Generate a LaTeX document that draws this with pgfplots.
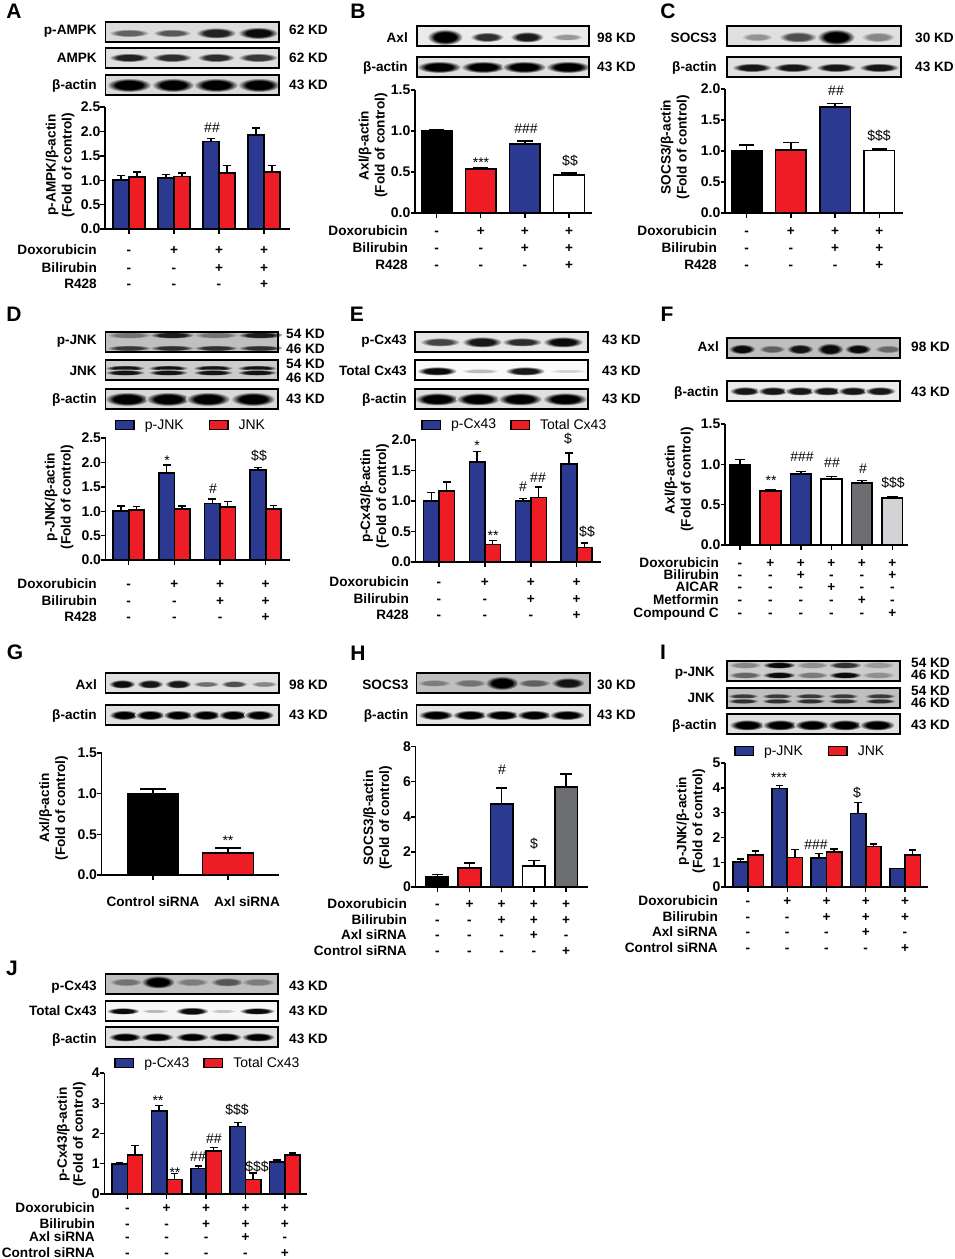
\documentclass[border=0pt]{standalone}
\usepackage{pgfplots}
\pgfplotsset{compat=1.18}
\usepackage{fontspec}
\setmainfont{Liberation Sans}
\definecolor{myblue}{HTML}{2B3990}
\definecolor{myred}{HTML}{EE1C25}
\definecolor{mygray}{HTML}{6D6E71}
\definecolor{mylight}{HTML}{D1D3D4}
\newcommand\lbl{\fontsize{13.6}{16}\selectfont\bfseries}
\newcommand\sig{\fontsize{14}{16}\selectfont}
\colorlet{bandcol}{black}
\colorlet{bandbg}{white}
\pgfdeclareradialshading[bandcol,bandbg]{band}{\pgfpoint{0bp}{0bp}}{color(0bp)=(bandcol); color(15bp)=(bandcol); color(25bp)=(bandbg); color(50bp)=(bandbg)}
% text in pixel coordinates, y counted from the top
\newcommand\Rt[3]{\node[anchor=east,inner sep=0pt,font=\lbl,text height=9.7pt,text depth=0pt] at (#1pt,-#2pt) {#3};}
\newcommand\Lt[3]{\node[anchor=west,inner sep=0pt,font=\lbl,text height=9.7pt,text depth=0pt] at (#1pt,-#2pt) {#3};}
\newcommand\Ct[3]{\node[inner sep=0pt,font=\lbl,text height=9.7pt,text depth=0pt] at (#1pt,-#2pt) {#3};}
\newcommand\Sg[3]{\node[inner sep=0pt,font=\sig,text height=10pt,text depth=0pt] at (#1pt,-#2pt) {#3};}
\newcommand\St[3]{\node[inner sep=0pt,font=\sig,text height=10pt,text depth=0pt,yshift=-3pt] at (#1pt,-#2pt) {#3};}
\newcommand\Pn[3]{\node[inner sep=0pt,font=\fontsize{21}{24}\selectfont\bfseries] at (#1pt,-#2pt) {#3};}
% sign rows: right edge of label, y, label, first x, step, signs
\newcommand\Row[6]{\Rt{#1}{#2}{#3}\foreach \s [count=\i from 0] in {#6}{\pgfmathsetmacro\xx{#4+\i*#5}\Ct{\xx}{#2}{\s}}}
% blot box and bands
\newcommand\Band[2]{\foreach \c/\w/\h/\k in {#2}{\colorlet{bandcol}{black!\k!bandbg}\pgfmathsetmacro\ww{\w*1.12}\shade[shading=band] (\c pt,-#1pt) ellipse [x radius=\ww pt,y radius=\h pt];}}
\newcommand\Blot[6]{\colorlet{bandbg}{black!#5!white}\fill[bandbg] (#1pt,-#2pt) rectangle (#3pt,-#4pt);#6\draw[black,line width=1.1pt] (#1pt,-#2pt) rectangle (#3pt,-#4pt);}
\pgfplotsset{
  panel/.style n args={7}{at={(#1pt,-#2pt)},anchor=south west,scale only axis,width=#3pt,height=#4pt,
    xmin=#5,xmax=#6,ymin=0,ymax=#7,axis x line*=bottom,axis y line*=left,tick align=outside,
    xticklabel=\empty,axis line style={line width=1.4pt,black},tick style={line width=1.4pt,black},
    major tick length=4.5pt,scaled y ticks=false,
    yticklabel style={font=\fontsize{14}{16}\selectfont\bfseries,inner sep=0pt,/pgf/number format/.cd,fixed,fixed zerofill,precision=1,assume math mode=true},
    ylabel style={font=\lbl,align=center,anchor=center}},
  ylab/.style 2 args={ylabel style={at={(axis description cs:#1,#2)}}},
  gbar/.style n args={4}{ybar,bar width=#1pt,bar shift=#2pt,fill=#3,draw=black,line width=1.6pt,
    legend image code/.code={\draw[fill=#3,draw=black,line width=1.4pt] (0pt,-4.5pt) rectangle (18.5pt,4.5pt);},
    error bars/y dir=plus,error bars/y explicit,
    error bars/error bar style={line width=1.4pt,black,xshift=#2pt},
    error bars/error mark options={black,line width=1.4pt,rotate=90,mark size=#4pt}},
  leg/.style n args={3}{legend style={at={(axis description cs:#1,#2)},anchor=west,draw=none,fill=none,inner sep=0pt,outer sep=0pt,
    legend columns=2,font=\fontsize{14}{16}\selectfont,legend cell align=left,
    /tikz/every odd column/.append style={column sep=8pt},
    /tikz/every even column/.append style={column sep=#3pt}}},
  intticks/.style={yticklabel style={/pgf/number format/precision=0}}
}
\begin{document}
\begin{tikzpicture}
\useasboundingbox (0pt,0pt) rectangle (955pt,-1259pt);

%% A
\Pn{14}{11}{A}
\Blot{105.3}{22}{279}{42}{14}{\Band{33}{129/18/4/55,172/17/4/60,216/18/5.5/85,258/18/6/95}}
\Blot{105.3}{48}{279}{68}{12}{\Band{57.5}{129/18/4.5/85,172/18/4.5/80,216/17/4.5/80,258/18/4.5/75}}
\Blot{105.3}{75}{279}{95}{15}{\Band{85}{129/20/7/100,173/19/7/100,216/20/7/100,259/19/7/100}}
\Rt{97}{30}{p-AMPK}\Rt{97}{58}{AMPK}\Rt{97}{85}{β-actin}
\Lt{289}{30}{62 KD}\Lt{289}{58}{62 KD}\Lt{289}{85}{43 KD}
\begin{axis}[panel={105}{229}{185}{122}{0.467}{4.578}{2.5},ytick={0,0.5,1,1.5,2,2.5},xtick={1,2,3,4},
  ylabel={p-AMPK/β-actin\\(Fold of control)},ylab={-0.243}{0.525}]
\addplot[gbar={16}{-8}{myblue}{4}] coordinates {(1,1.00) +- (0,0.10) (2,1.05) +- (0,0.07) (3,1.79) +- (0,0.07) (4,1.93) +- (0,0.14)};
\addplot[gbar={16}{8}{myred}{4}] coordinates {(1,1.06) +- (0,0.11) (2,1.08) +- (0,0.07) (3,1.15) +- (0,0.15) (4,1.17) +- (0,0.13)};
\end{axis}
\Sg{212}{127}{\#\#}
\Row{97}{250}{Doxorubicin}{129}{45}{-,+,+,+}
\Row{97}{268}{Bilirubin}{129}{45}{-,-,+,+}
\Row{97}{284}{R428}{129}{45}{-,-,-,+}

%% B
\Pn{358}{11}{B}
\Blot{417}{26}{589}{46}{8}{\Band{37}{445/16/8/100,487/15/5/80,527/15/5.5/88,567/14/3.5/35}}
\Blot{417}{57}{589}{77}{12}{\Band{67}{439/20/6/100,483/20/6/100,524/20/6/100,568/20/6/100}}
\Rt{408}{38}{Axl}\Rt{408}{67}{β-actin}
\Lt{597}{38}{98 KD}\Lt{597}{67}{43 KD}
\begin{axis}[panel={415}{213}{177}{123}{0.508}{4.522}{1.5},ytick={0,0.5,1,1.5},xtick={1,2,3,4},
  ylabel={Axl/β-actin\\(Fold of control)},ylab={-0.237}{0.549}]
\addplot[gbar={30.7}{0}{black}{7.7}] coordinates {(1,1.00) +- (0,0.02)};
\addplot[gbar={30.7}{0}{myred}{7.7}] coordinates {(2,0.54) +- (0,0.01)};
\addplot[gbar={30.7}{0}{myblue}{7.7}] coordinates {(3,0.84) +- (0,0.04)};
\addplot[gbar={30.7}{0}{white}{7.7}] coordinates {(4,0.46) +- (0,0.03)};
\end{axis}
\St{481}{159}{***}\Sg{526}{128}{\#\#\#}\Sg{570}{160}{\$\$}
\Row{408}{231}{Doxorubicin}{436.7}{44.1}{-,+,+,+}
\Row{408}{248}{Bilirubin}{436.7}{44.1}{-,-,+,+}
\Row{408}{265}{R428}{436.7}{44.1}{-,-,-,+}

%% C
\Pn{668}{11}{C}
\Blot{727}{26}{901}{46}{12}{\Band{37}{757/14/4/35,798/17/5.5/65,836/17/8/100,878/15/5/40}}
\Blot{727}{57}{901}{77}{12}{\Band{67.5}{752/18/4.5/90,793/18/4.5/90,836/18/4.5/90,879/18/4.5/90}}
\Rt{717}{38}{SOCS3}\Rt{717}{67}{β-actin}
\Lt{915}{38}{30 KD}\Lt{915}{67}{43 KD}
\begin{axis}[panel={725}{213}{178}{124}{0.509}{4.536}{2},ytick={0,0.5,1,1.5,2},xtick={1,2,3,4},
  ylabel={SOCS3/β-actin\\(Fold of control)},ylab={-0.281}{0.532}]
\addplot[gbar={30.7}{0}{black}{7.7}] coordinates {(1,1.00) +- (0,0.10)};
\addplot[gbar={30.7}{0}{myred}{7.7}] coordinates {(2,1.02) +- (0,0.12)};
\addplot[gbar={30.7}{0}{myblue}{7.7}] coordinates {(3,1.71) +- (0,0.06)};
\addplot[gbar={30.7}{0}{white}{7.7}] coordinates {(4,1.01) +- (0,0.02)};
\end{axis}
\Sg{836}{90}{\#\#}\Sg{879}{135}{\$\$\$}
\Row{717}{231}{Doxorubicin}{746.7}{44.2}{-,+,+,+}
\Row{717}{248}{Bilirubin}{746.7}{44.2}{-,-,+,+}
\Row{717}{265}{R428}{746.7}{44.2}{-,-,-,+}

%% D
\Pn{14}{314}{D}
\Blot{105.3}{332}{278}{352}{25}{\Band{335}{129/20/3.5/40,172/20/3.5/85,216/20/3.5/40,260/20/3.5/85}\Band{348}{129/20/3/70,172/20/3/75,216/20/3/75,260/20/3/75}}
\Blot{105.3}{360}{278}{380}{20}{\Band{368}{125/18/3/90,168/18/3/90,213/18/3/90,257/18/3/90}\Band{372.5}{125/18/3/90,168/18/3/90,213/18/3/90,257/18/3/90}}
\Blot{105.3}{389}{278}{409}{15}{\Band{399}{127/20/7/100,168/20/7/100,208/20/7/100,253/20/7/100}}
\Rt{97}{340}{p-JNK}\Rt{97}{371}{JNK}\Rt{97}{399}{β-actin}
\Lt{286}{334}{54 KD}\Lt{286}{349}{46 KD}\Lt{286}{364}{54 KD}\Lt{286}{378}{46 KD}\Lt{286}{399}{43 KD}
\begin{axis}[panel={105.7}{560}{184.3}{122}{0.496}{4.532}{2.5},ytick={0,0.5,1,1.5,2,2.5},xtick={1,2,3,4},
  ylabel={p-JNK/β-actin\\(Fold of control)},ylab={-0.253}{0.516},
  leg={0.05}{1.107}{23},legend entries={p-JNK,JNK}]
\addplot[gbar={15.5}{-7.75}{myblue}{3.9}] coordinates {(1,1.00) +- (0,0.11) (2,1.78) +- (0,0.17) (3,1.16) +- (0,0.09) (4,1.85) +- (0,0.05)};
\addplot[gbar={15.5}{7.75}{myred}{3.9}] coordinates {(1,1.02) +- (0,0.08) (2,1.05) +- (0,0.06) (3,1.09) +- (0,0.11) (4,1.04) +- (0,0.08)};
\end{axis}
\St{167}{457}{*}\Sg{213}{488}{\#}\Sg{259}{455}{\$\$}
\Row{97}{584}{Doxorubicin}{128.7}{45.67}{-,+,+,+}
\Row{97}{601}{Bilirubin}{128.7}{45.67}{-,-,+,+}
\Row{97}{617}{R428}{128.7}{45.67}{-,-,-,+}

%% E
\Pn{357}{314}{E}
\Blot{415}{332}{588}{352}{10}{\Band{342}{440/18/4.5/70,482/18/5.5/90,522/18/4.5/80,563/18/5.5/95}}
\Blot{415}{360}{588}{380}{2}{\Band{371}{437/18/4.5/95,480/17/2.5/25,525/18/4.5/90,568/17/2/15}}
\Blot{415}{389}{588}{409}{12}{\Band{399}{437/20/6.5/100,478/20/6.5/100,520/20/6.5/100,565/20/6.5/100}}
\Rt{407}{340}{p-Cx43}\Rt{407}{371}{Total Cx43}\Rt{407}{399}{β-actin}
\Lt{602}{340}{43 KD}\Lt{602}{371}{43 KD}\Lt{602}{399}{43 KD}
\begin{axis}[panel={415.7}{562}{185}{122}{0.492}{4.523}{2},ytick={0,0.5,1,1.5,2},xtick={1,2,3,4},
  ylabel={p-Cx43/β-actin\\(Fold of control)},ylab={-0.222}{0.541},
  leg={0.03}{1.125}{12},legend entries={p-Cx43,Total Cx43}]
\addplot[gbar={15.5}{-7.75}{myblue}{3.9}] coordinates {(1,1.00) +- (0,0.14) (2,1.64) +- (0,0.17) (3,1.00) +- (0,0.04) (4,1.61) +- (0,0.18)};
\addplot[gbar={15.5}{7.75}{myred}{3.9}] coordinates {(1,1.16) +- (0,0.15) (2,0.29) +- (0,0.06) (3,1.06) +- (0,0.17) (4,0.24) +- (0,0.07)};
\end{axis}
\St{477}{442}{*}\Sg{523}{486}{\#}\Sg{538}{477}{\#\#}\Sg{568}{438}{\$}\St{493}{532}{**}\Sg{587}{531}{\$\$}
\Row{409}{582}{Doxorubicin}{439}{45.9}{-,+,+,+}
\Row{409}{599}{Bilirubin}{439}{45.9}{-,-,+,+}
\Row{409}{615}{R428}{439}{45.9}{-,-,-,+}

%% F
\Pn{667}{314}{F}
\Blot{727}{338}{900}{358}{25}{\Band{349}{742/12/5/95,772/12/4/50,800/12/5/90,830/12/6/95,858/12/5/95,888/12/4/45}}
\Blot{727}{381}{900}{401}{8}{\Band{391}{745/14/4.5/90,773/14/4.5/90,800/14/4.5/90,827/14/4.5/90,853/14/4.5/90,880/14/4.5/90}}
\Rt{719}{347}{Axl}\Rt{719}{392}{β-actin}
\Lt{911}{347}{98 KD}\Lt{911}{392}{43 KD}
\begin{axis}[panel={725}{545}{183}{121}{0.508}{6.515}{1.5},ytick={0,0.5,1,1.5},xtick={1,2,3,4,5,6},
  ylabel={Axl/β-actin\\(Fold of control)},ylab={-0.251}{0.541}]
\addplot[gbar={20.7}{0}{black}{5.2}] coordinates {(1,1.00) +- (0,0.06)};
\addplot[gbar={20.7}{0}{myred}{5.2}] coordinates {(2,0.67) +- (0,0.01)};
\addplot[gbar={20.7}{0}{myblue}{5.2}] coordinates {(3,0.88) +- (0,0.03)};
\addplot[gbar={20.7}{0}{white}{5.2}] coordinates {(4,0.82) +- (0,0.03)};
\addplot[gbar={20.7}{0}{mygray}{5.2}] coordinates {(5,0.77) +- (0,0.03)};
\addplot[gbar={20.7}{0}{mylight}{5.2}] coordinates {(6,0.58) +- (0,0.02)};
\end{axis}
\St{771}{477}{**}\Sg{802}{456}{\#\#\#}\Sg{832}{462}{\#\#}\Sg{863}{468}{\#}\Sg{893}{482}{\$\$\$}
\Row{719}{563}{Doxorubicin}{740}{30.46}{-,+,+,+,+,+}
\Row{719}{575}{Bilirubin}{740}{30.46}{-,-,+,-,-,+}
\Row{719}{587}{AICAR}{740}{30.46}{-,-,-,+,-,-}
\Row{719}{600}{Metformin}{740}{30.46}{-,-,-,-,+,-}
\Row{719}{613}{Compound C}{740}{30.46}{-,-,-,-,-,+}

%% G
\Pn{15}{652}{G}
\Blot{105.3}{673}{279}{693}{12}{\Band{684}{122/12/4.5/95,150/12/4.5/90,178/12/4.5/90,206/12/3/50,234/12/3.5/65,264/12/3/40}}
\Blot{105.3}{705}{279}{725}{12}{\Band{715}{124/13.5/5/100,150/13.5/5/100,178/13.5/5/100,206/13.5/5/100,233/13.5/5/100,259/13.5/5/100}}
\Rt{97}{685}{Axl}\Rt{97}{715}{β-actin}
\Lt{289}{685}{98 KD}\Lt{289}{715}{43 KD}
\begin{axis}[panel={101.7}{875}{177.3}{122}{0.316}{2.68}{1.5},ytick={0,0.5,1,1.5},xtick={1,2},
  ylabel={Axl/β-actin\\(Fold of control)},ylab={-0.271}{0.549}]
\addplot[gbar={51}{0}{black}{12.7}] coordinates {(1,1.00) +- (0,0.06)};
\addplot[gbar={51}{0}{myred}{12.7}] coordinates {(2,0.27) +- (0,0.06)};
\end{axis}
\St{228}{837}{**}
\Ct{153}{902}{Control siRNA}\Ct{247}{902}{Axl siRNA}

%% H
\Pn{358}{653}{H}
\Blot{416.7}{673}{590}{693}{25}{\Band{683}{434/15/3.5/35,470/15/4/40,502/15/7/100,534/15/4/50,568/15/5.5/90}}
\Blot{416.7}{705}{590}{725}{10}{\Band{715}{436/16/5/100,470/16/5/100,502/16/5/100,534/16/5/100,567/16/5/100}}
\Rt{408.7}{685}{SOCS3}\Rt{408.7}{715}{β-actin}
\Lt{597}{685}{30 KD}\Lt{597}{715}{43 KD}
\begin{axis}[panel={415.7}{887}{172.3}{140.3}{0.329}{5.68}{8},ytick={0,2,4,6,8},xtick={1,2,3,4,5},intticks,
  ylabel={SOCS3/β-actin\\(Fold of control)},ylab={-0.221}{0.493}]
\addplot[gbar={22.7}{0}{black}{5.7}] coordinates {(1,0.60) +- (0,0.10)};
\addplot[gbar={22.7}{0}{myred}{5.7}] coordinates {(2,1.10) +- (0,0.27)};
\addplot[gbar={22.7}{0}{myblue}{5.7}] coordinates {(3,4.75) +- (0,0.90)};
\addplot[gbar={22.7}{0}{white}{5.7}] coordinates {(4,1.20) +- (0,0.30)};
\addplot[gbar={22.7}{0}{mygray}{5.7}] coordinates {(5,5.70) +- (0,0.75)};
\end{axis}
\Sg{502}{769}{\#}\Sg{534}{843}{\$}
\Row{407}{904}{Doxorubicin}{437.3}{32.2}{-,+,+,+,+}
\Row{407}{920}{Bilirubin}{437.3}{32.2}{-,-,+,+,+}
\Row{407}{935}{Axl siRNA}{437.3}{32.2}{-,-,-,+,-}
\Row{407}{951}{Control siRNA}{437.3}{32.2}{-,-,-,-,+}

%% I
\Pn{663}{652}{I}
\Blot{727}{661}{900}{681}{20}{\Band{665}{745/15/3.5/35,779/15/3.5/95,812/15/3.5/30,845/15/3.5/75,878/15/3.5/25}\Band{675}{745/15/3.5/50,779/15/3.5/95,812/15/3.5/40,845/15/3.5/95,878/15/3.5/30}}
\Blot{727}{688}{900}{708}{25}{\Band{696}{743/14/2.7/70,777/14/2.7/70,810/14/2.7/70,843/14/2.7/70,880/14/2.7/70}\Band{701}{743/14/2.7/75,777/14/2.7/75,810/14/2.7/75,843/14/2.7/75,880/14/2.7/75}}
\Blot{727}{714}{900}{734}{12}{\Band{725}{747/16/5.5/100,780/16/5.5/100,812/16/5.5/100,845/16/5.5/100,877/16/5.5/100}}
\Rt{715}{672}{p-JNK}\Rt{715}{698}{JNK}\Rt{717}{725}{β-actin}
\Lt{911}{663}{54 KD}\Lt{911}{675}{46 KD}\Lt{911}{691}{54 KD}\Lt{911}{703}{46 KD}\Lt{911}{725}{43 KD}
\begin{axis}[panel={725}{887}{202.7}{124}{0.414}{5.578}{5},ytick={0,1,2,3,4,5},xtick={1,2,3,4,5},intticks,
  ylabel={p-JNK/β-actin\\(Fold of control)},ylab={-0.168}{0.532},
  leg={0.045}{1.097}{23},legend entries={p-JNK,JNK}]
\addplot[gbar={15.3}{-7.65}{myblue}{3.8}] coordinates {(1,1.00) +- (0,0.13) (2,3.97) +- (0,0.13) (3,1.16) +- (0,0.20) (4,2.96) +- (0,0.45) (5,0.75) +- (0,0)};
\addplot[gbar={15.3}{7.65}{myred}{3.8}] coordinates {(1,1.28) +- (0,0.17) (2,1.19) +- (0,0.33) (3,1.42) +- (0,0.11) (4,1.63) +- (0,0.10) (5,1.28) +- (0,0.22)};
\end{axis}
\St{779}{774}{***}\Sg{816}{844}{\#\#\#}\Sg{857}{792}{\$}
\Row{718}{901}{Doxorubicin}{748}{39.25}{-,+,+,+,+}
\Row{718}{917}{Bilirubin}{748}{39.25}{-,-,+,+,+}
\Row{718}{932}{Axl siRNA}{748}{39.25}{-,-,-,+,-}
\Row{718}{948}{Control siRNA}{748}{39.25}{-,-,-,-,+}

%% J
\Pn{12}{968}{J}
\Blot{105.3}{974}{278}{994}{25}{\Band{982}{126/15/4/40,158/15/6.5/100,192/15/4/35,227/15/4.5/55,258/15/4/35}}
\Blot{105.3}{1001}{278}{1021}{3}{\Band{1011}{123/15/3.5/95,155/13/2/25,192/15/4/95,223/12/2/20,257/16/3.5/95}}
\Blot{105.3}{1027}{278}{1047}{12}{\Band{1037}{125/15/4.5/100,157/15/4.5/100,192/15/4.5/100,225/15/4.5/100,258/15/4.5/100}}
\Rt{97}{986}{p-Cx43}\Rt{97}{1011}{Total Cx43}\Rt{97}{1039}{β-actin}
\Lt{289}{986}{43 KD}\Lt{289}{1011}{43 KD}\Lt{289}{1039}{43 KD}
\begin{axis}[panel={104.3}{1194}{202.4}{121}{0.416}{5.553}{4},ytick={0,1,2,3,4},xtick={1,2,3,4,5},intticks,
  ylabel={p-Cx43/β-actin\\(Fold of control)},ylab={-0.163}{0.492},
  leg={0.05}{1.083}{12},legend entries={p-Cx43,Total Cx43}]
\addplot[gbar={15.3}{-7.65}{myblue}{3.8}] coordinates {(1,1.00) +- (0,0.03) (2,2.75) +- (0,0.18) (3,0.85) +- (0,0.08) (4,2.23) +- (0,0.13) (5,1.05) +- (0,0.08)};
\addplot[gbar={15.3}{7.65}{myred}{3.8}] coordinates {(1,1.28) +- (0,0.32) (2,0.48) +- (0,0.19) (3,1.43) +- (0,0.10) (4,0.48) +- (0,0.22) (5,1.28) +- (0,0.08)};
\end{axis}
\St{158}{1097}{**}\St{175}{1169}{**}\Sg{198}{1156}{\#\#}\Sg{214}{1138}{\#\#}\Sg{237}{1109}{\$\$\$}\Sg{257}{1166}{\$\$\$}
\Row{95}{1208}{Doxorubicin}{127.3}{39.4}{-,+,+,+,+}
\Row{95}{1224}{Bilirubin}{127.3}{39.4}{-,-,+,+,+}
\Row{95}{1237}{Axl siRNA}{127.3}{39.4}{-,-,-,+,-}
\Row{95}{1253}{Control siRNA}{127.3}{39.4}{-,-,-,-,+}
\end{tikzpicture}
\end{document}
